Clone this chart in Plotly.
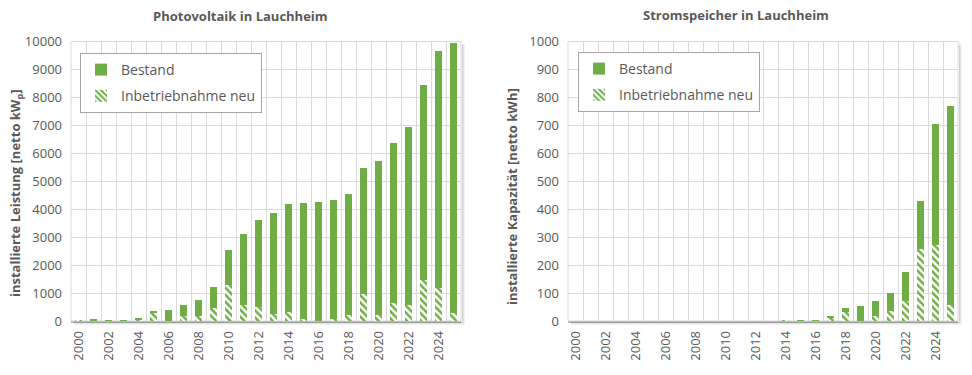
import plotly.graph_objects as go

years = list(range(2000, 2026))

# Photovoltaik: total installed (kWp) and newly installed in year
pv_total = [30, 70, 40, 40, 100, 360, 390, 570, 750, 1220, 2540, 3110, 3620, 3870, 4190,
            4220, 4260, 4330, 4550, 5480, 5730, 6370, 6950, 8450, 9670, 9930]
pv_new = [30, 40, 10, 10, 60, 270, 0, 190, 190, 470, 1290, 570, 500, 250, 320,
          70, 0, 70, 210, 970, 210, 640, 570, 1470, 1180, 290]

# Stromspeicher: total capacity (kWh) and newly installed in year
st_total = [0, 0, 0, 0, 0, 0, 0, 0, 0, 0, 0, 0, 0, 0, 5,
            5, 5, 19, 48, 55, 73, 101, 176, 429, 704, 768]
st_new = [0, 0, 0, 0, 0, 0, 0, 0, 0, 0, 0, 0, 0, 0, 5,
          0, 0, 15, 33, 0, 19, 37, 73, 258, 272, 58]

pv_bestand = [t - n for t, n in zip(pv_total, pv_new)]
st_bestand = [t - n for t, n in zip(st_total, st_new)]

GREEN = "#70AD47"
TXT = "#595959"
GRID = "#D9D9D9"
FONT = "Open Sans"

W, H = 972, 375
def px(x):
    return x / W
def py(y):
    return 1 - y / H

fig = go.Figure()

pattern = dict(shape="\\", fgcolor=GREEN, bgcolor="white", size=5, solidity=0.5, fillmode="replace")

fig.add_trace(go.Bar(x=years, y=pv_new, name="Inbetriebnahme neu", xaxis="x", yaxis="y",
                     marker=dict(color="white", pattern=pattern, line=dict(width=0)),
                     legend="legend", legendgroup="a", legendrank=2))
fig.add_trace(go.Bar(x=years, y=pv_bestand, name="Bestand", xaxis="x", yaxis="y",
                     marker=dict(color=GREEN, line=dict(width=0)),
                     legend="legend", legendgroup="b", legendrank=1))
fig.add_trace(go.Bar(x=years, y=st_new, name="Inbetriebnahme neu", xaxis="x2", yaxis="y2",
                     marker=dict(color="white", pattern=pattern, line=dict(width=0)),
                     legend="legend2", legendgroup="c", legendrank=2))
fig.add_trace(go.Bar(x=years, y=st_bestand, name="Bestand", xaxis="x2", yaxis="y2",
                     marker=dict(color=GREEN, line=dict(width=0)),
                     legend="legend2", legendgroup="d", legendrank=1))

ytop, ybot = 41.5, 321
L1, R1 = 71, 461
L2, R2 = 568, 958

xaxis_common = dict(
    range=[1999.5, 2025.5],
    tickmode="array", tickvals=list(range(2000, 2026, 2)),
    ticktext=[str(y) for y in range(2000, 2026, 2)],
    tickangle=-90, showgrid=False,
    minor=dict(tick0=1999.5, dtick=1, showgrid=True, gridcolor=GRID, gridwidth=1),
    showline=True, linecolor="#BFBFBF", linewidth=1.5, mirror=False,
    ticks="", tickfont=dict(family=FONT, size=13, color=TXT), ticklabelstandoff=3,
    fixedrange=True, zeroline=False, automargin=False,
)

yaxis_common = dict(
    showgrid=True, gridcolor=GRID, gridwidth=1, zeroline=False,
    tickfont=dict(family=FONT, size=13, color=TXT), ticks="",
    showline=False, ticklabelstandoff=8, tickformat="d", automargin=False,
    fixedrange=True,
)

legend_common = dict(
    xanchor="left", yanchor="top",
    bgcolor="white", bordercolor="#A6A6A6", borderwidth=1,
    font=dict(family=FONT, size=14, color=TXT),
    traceorder="grouped", tracegroupgap=5,
)

fig.update_layout(
    width=W, height=H,
    margin=dict(l=0, r=0, t=0, b=0, autoexpand=False),
    paper_bgcolor="white", plot_bgcolor="white",
    barmode="stack", bargap=0.52,
    font=dict(family=FONT, color=TXT),
    xaxis=dict(domain=[px(L1), px(R1)], anchor="y", **xaxis_common),
    xaxis2=dict(domain=[px(L2), px(R2)], anchor="y2", **xaxis_common),
    yaxis=dict(domain=[py(ybot), py(ytop)], anchor="x", range=[0, 10000], dtick=1000,
               **yaxis_common),
    yaxis2=dict(domain=[py(ybot), py(ytop)], anchor="x2", range=[0, 1000], dtick=100,
                **yaxis_common),
    legend=dict(x=px(80), y=py(53), **legend_common),
    legend2=dict(x=px(578), y=py(52), **legend_common),
    annotations=[
        dict(text="<b>Photovoltaik in Lauchheim</b>", x=px(240), y=py(16), xref="paper", yref="paper",
             xanchor="center", yanchor="middle",
             showarrow=False, font=dict(family=FONT, size=13, color=TXT)),
        dict(text="<b>Stromspeicher in Lauchheim</b>", x=px(736), y=py(15), xref="paper", yref="paper",
             xanchor="center", yanchor="middle",
             showarrow=False, font=dict(family=FONT, size=13, color=TXT)),
        dict(text="<b>installierte Leistung [netto kW<sub>p</sub>]</b>", x=px(16), y=py(193),
             xref="paper", yref="paper", xanchor="center", yanchor="middle", textangle=-90,
             showarrow=False, font=dict(family=FONT, size=13, color=TXT)),
        dict(text="<b>installierte Kapazität [netto kWh]</b>", x=px(512), y=py(197),
             xref="paper", yref="paper", xanchor="center", yanchor="middle", textangle=-90,
             showarrow=False, font=dict(family=FONT, size=13, color=TXT)),
    ],
)

# plot-area frame and soft shadow
shapes = []
for L, R in [(L1, R1), (L2, R2)]:
    shapes.append(dict(type="rect", xref="paper", yref="paper", x0=px(L), x1=px(R), y0=py(ybot), y1=py(ytop),
                       line=dict(color=GRID, width=1), fillcolor="rgba(0,0,0,0)", layer="below"))
    for i, a in enumerate([0.18, 0.10, 0.05]):
        off = 1.5 + i
        shapes.append(dict(type="line", xref="paper", yref="paper", x0=px(R + off), x1=px(R + off),
                           y0=py(ybot + off), y1=py(ytop + 3), line=dict(color=f"rgba(0,0,0,{a})", width=1)))
        shapes.append(dict(type="line", xref="paper", yref="paper", x0=px(L + 3), x1=px(R + off),
                           y0=py(ybot + off), y1=py(ybot + off), line=dict(color=f"rgba(0,0,0,{a})", width=1)))
fig.update_layout(shapes=shapes)

fig.write_html("out.html", config={"displayModeBar": False},
               post_script="document.body.style.margin='0';")
